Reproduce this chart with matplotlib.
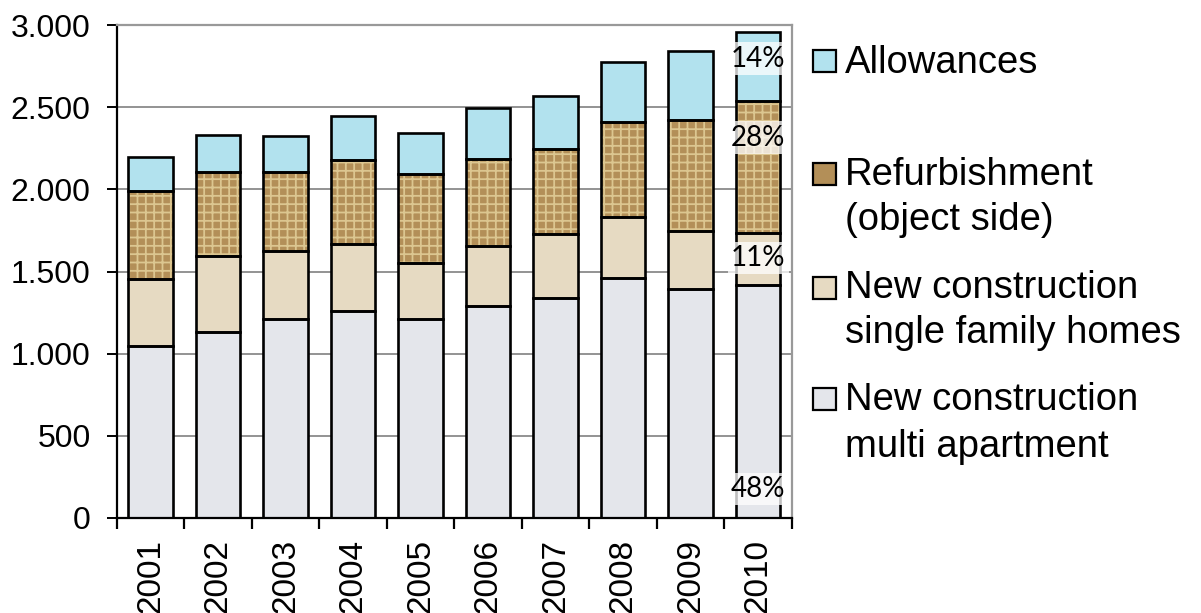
import numpy as np
import matplotlib
matplotlib.use("Agg")
import matplotlib.pyplot as plt
from matplotlib.patches import Rectangle

years = ['2001', '2002', '2003', '2004', '2005', '2006', '2007', '2008', '2009', '2010']
multi_apartment = [1049, 1133, 1210, 1261, 1210, 1293, 1342, 1463, 1396, 1417]
single_family = [405, 463, 416, 406, 341, 363, 389, 372, 348, 317]
refurbishment = [539, 513, 477, 511, 544, 532, 516, 578, 680, 807]
allowances = [207, 223, 223, 266, 248, 307, 319, 362, 420, 415]

# shares written on the last bar (label, height of the label in data units)
share_labels = ['48%', '11%', '28%', '14%']
share_y = [177, 1583, 2314, 2795]

legend_names = [['Allowances'],
                ['Refurbishment', '(object side)'],
                ['New construction', 'single family homes'],
                ['New construction', 'multi apartment']]

plt.rcParams['font.family'] = ['Liberation Sans', 'DejaVu Sans']
plt.rcParams['hatch.linewidth'] = 1.3


def main():
    fig = plt.figure(figsize=(12.01, 6.13), dpi=100)
    ax = fig.add_axes([0.0974, 0.155, 0.562, 0.804])

    x = np.arange(len(years))
    w = 0.66
    series = [multi_apartment, single_family, refurbishment, allowances]
    faces = ['#e4e6eb', '#e6dac2', '#b38f58', '#b2e2ee']
    hatch_cols = ['#d2d4da', '#d8cbb0', '#dcc690', '#9fd6e3']
    hatches = ['', '', '++', '']

    bottom = np.zeros(len(years))
    for vals, fc, hc, h in zip(series, faces, hatch_cols, hatches):
        vals = np.array(vals)
        ax.bar(x, vals, w, bottom=bottom, color=fc, edgecolor=hc, hatch=h,
               linewidth=0, zorder=2)
        ax.bar(x, vals, w, bottom=bottom, fill=False, edgecolor='black',
               linewidth=1.9, zorder=3)
        bottom = bottom + vals

    for lab, yv in zip(share_labels, share_y):
        ax.text(x[-1], yv, lab, ha='center', va='center', fontsize=20,
                family=['Lato', 'DejaVu Sans'], zorder=5,
                bbox=dict(boxstyle='square,pad=0.12', fc='white', ec='none', alpha=0.75))

    ax.set_xlim(-0.5, 9.5)
    ax.set_ylim(0, 3000)
    ax.set_yticks(np.arange(0, 3001, 500))
    ax.set_yticklabels([f'{v:,}'.replace(',', '.') for v in range(0, 3001, 500)])
    ax.yaxis.grid(True, color='#808080', linewidth=1.2, zorder=0)
    ax.set_axisbelow(True)

    ax.set_xticks(x)
    ax.set_xticklabels(years, rotation=90, fontsize=24)
    ax.set_xticks(np.arange(-0.5, 10, 1), minor=True)
    ax.tick_params(axis='x', which='major', length=0, pad=15)
    ax.tick_params(axis='x', which='minor', length=8, width=1.6, direction='out')
    ax.tick_params(axis='y', length=7, width=1.4, labelsize=23, pad=12)

    ax.spines['left'].set_linewidth(1.6)
    ax.spines['bottom'].set_linewidth(1.6)
    for s in ['top', 'right']:
        ax.spines[s].set_color('#999999')
        ax.spines[s].set_linewidth(1.6)

    # legend drawn by hand so the boxes sit on the first text line
    W, H = 1201, 613
    box_tops = [50, 163, 277, 388]
    baselines = [[73], [185, 230], [298, 343], [410, 457]]
    for fc, top, lines, bl in zip(faces[::-1], box_tops, legend_names, baselines):
        fig.patches.append(Rectangle((813 / W, 1 - (top + 22) / H), 23 / W, 22 / H,
                                     transform=fig.transFigure, facecolor=fc,
                                     edgecolor='black', linewidth=1.6))
        for line, b in zip(lines, bl):
            fig.text(845 / W, 1 - b / H, line, fontsize=27.5, va='baseline', ha='left')

    fig.savefig('out.png', dpi=100)


if __name__ == "__main__":
    main()
